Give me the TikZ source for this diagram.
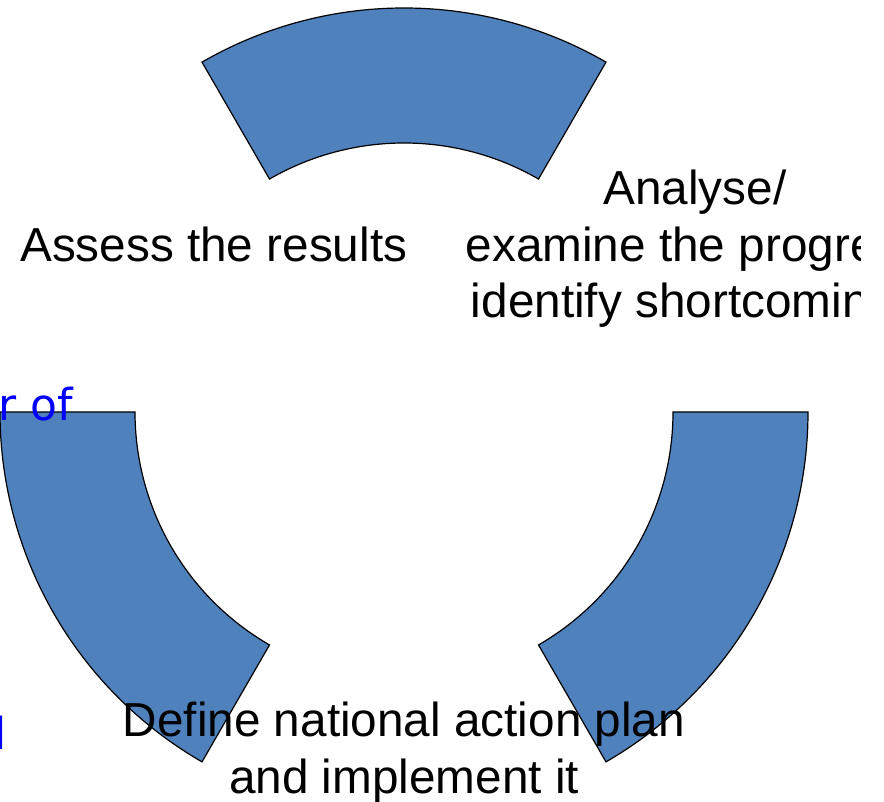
\documentclass[tikz,border=0pt]{standalone}
\usepackage{fontspec}
\setmainfont{Liberation Sans}
\newfontfamily\notefont{DejaVu Sans}
\usetikzlibrary{calc}
\definecolor{segmentblue}{RGB}{79, 129, 189}
\definecolor{noteblue}{RGB}{0, 0, 255}

\begin{document}
\begin{tikzpicture}[x=1pt, y=1pt,
    segment/.style={fill=segmentblue, draw=black, line width=1.2pt},
    steptext/.style={font=\fontsize{47.7}{56.5}\selectfont, text=black, inner sep=0pt, align=center},
    notetext/.style={font=\notefont\fontsize{44}{52}\selectfont, text=noteblue, inner sep=0pt}]
    \clip (0,0) rectangle (884,801);
    \coordinate (hub) at (404,389);
    \def\rout{404}
    \def\rin{269}
    \foreach \a [evaluate=\a as \b using \a+60] in {60,180,300} {
        \draw[segment] ($(hub)+(\a:\rout)$) arc[start angle=\a, end angle=\b, radius=\rout]
            -- ($(hub)+(\b:\rin)$) arc[start angle=\b, end angle=\a, radius=\rin] -- cycle;
    }
    \node[steptext, anchor=base west] (assess) at (20,539) {Assess the results};
    \begin{scope}
        \clip (0,0) rectangle (860,801);
        \node[steptext, anchor=base] (analyse) at (695,483) {Analyse/\\examine the progress\\identify shortcomings};
    \end{scope}
    \node[steptext, anchor=base] (define) at (404,8) {Define national action plan\\and implement it};
    \node[notetext, anchor=base east] (notetop) at (73,380) {r of};
    \node[notetext, anchor=base west] (notelow) at (-5.6,52) {l};
\end{tikzpicture}
\end{document}
